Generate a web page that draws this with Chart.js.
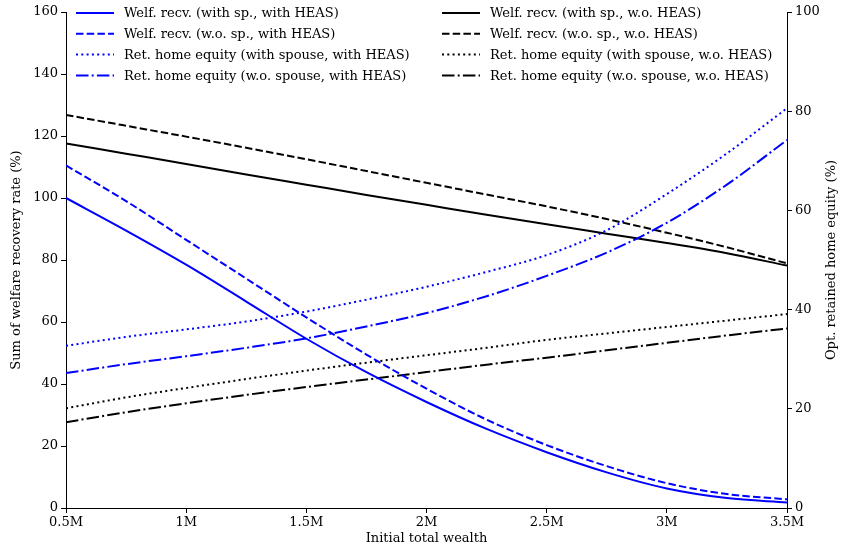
<!DOCTYPE html>
<html>
<head>
<meta charset="utf-8">
<script src="https://cdn.jsdelivr.net/npm/chart.js@4.4.1/dist/chart.umd.min.js"></script>
<style>
  html, body { margin: 0; padding: 0; background: #ffffff; }
  #wrap { width: 841px; height: 546px; position: relative; }
</style>
</head>
<body>
<div id="wrap"><canvas id="c" width="841" height="546"></canvas></div>
<script>
// ---- data ----
const wealth = [0.5, 0.75, 1.0, 1.25, 1.5, 1.75, 2.0, 2.25, 2.5, 2.75, 3.0, 3.25, 3.5]; // millions

// left axis: sum of welfare recovery rate (%)
const welfWithSpWithHeas = [100.0, 89.5, 78.5, 66.6, 54.6, 43.8, 34.2, 25.5, 18.0, 11.5, 6.3, 3.2, 1.8];
const welfWoSpWithHeas   = [110.5, 99.0, 86.5, 74.0, 61.5, 49.5, 38.5, 28.5, 20.3, 13.5, 8.0, 4.5, 2.8];
const welfWithSpWoHeas   = [117.6, 114.3, 111.0, 107.6, 104.3, 101.0, 97.8, 94.6, 91.5, 88.5, 85.5, 82.2, 78.2];
const welfWoSpWoHeas     = [126.8, 123.3, 119.8, 116.2, 112.5, 108.7, 104.9, 101.1, 97.3, 93.2, 88.8, 84.1, 78.9];

// right axis: optimal retained home equity (%)
const homeWithSpWithHeas = [32.7, 34.5, 36.0, 37.6, 39.6, 42.0, 44.6, 47.6, 51.0, 56.0, 63.3, 71.5, 80.6];
const homeWoSpWithHeas   = [27.2, 29.0, 30.6, 32.3, 34.2, 36.6, 39.3, 42.7, 46.8, 51.5, 57.5, 65.2, 74.2];
const homeWithSpWoHeas   = [20.1, 22.3, 24.2, 26.0, 27.7, 29.3, 30.8, 32.3, 33.9, 35.2, 36.5, 37.8, 39.1];
const homeWoSpWoHeas     = [17.3, 19.3, 21.1, 22.8, 24.4, 25.9, 27.4, 28.9, 30.3, 31.8, 33.3, 34.8, 36.2];

const seriesLabels = [
  'Welf. recv. (with sp., with HEAS)',
  'Welf. recv. (w.o. sp., with HEAS)',
  'Ret. home equity (with spouse, with HEAS)',
  'Ret. home equity (w.o. spouse, with HEAS)',
  'Welf. recv. (with sp., w.o. HEAS)',
  'Welf. recv. (w.o. sp., w.o. HEAS)',
  'Ret. home equity (with spouse, w.o. HEAS)',
  'Ret. home equity (w.o. spouse, w.o. HEAS)'
];

const xTicks = [0.5, 1.0, 1.5, 2.0, 2.5, 3.0, 3.5];
const xTickLabels = ['0.5M', '1M', '1.5M', '2M', '2.5M', '3M', '3.5M'];
const xAxisTitle = 'Initial total wealth';
const leftAxisTitle = 'Sum of welfare recovery rate (%)';
const rightAxisTitle = 'Opt. retained home equity (%)';

// ---- styles ----
const FONT = "'DejaVu Serif', serif";
const BLUE = '#0000ff';
const BLACK = '#000000';
const LW = 2;
const DASH = [7.5, 3.2];
const DOT = [2, 3.3];
const DASHDOT = [12.5, 3.2, 2, 3.2];

function pts(ys) { return wealth.map((x, i) => ({ x: x, y: ys[i] })); }

function ds(label, ys, color, dash, axis) {
  return {
    label: label,
    data: pts(ys),
    borderColor: color,
    backgroundColor: color,
    borderWidth: LW,
    borderDash: dash,
    pointRadius: 0,
    pointHoverRadius: 0,
    fill: false,
    cubicInterpolationMode: 'monotone',
    yAxisID: axis
  };
}

const datasets = [
  ds(seriesLabels[0], welfWithSpWithHeas, BLUE, [], 'yL'),
  ds(seriesLabels[1], welfWoSpWithHeas, BLUE, DASH, 'yL'),
  ds(seriesLabels[2], homeWithSpWithHeas, BLUE, DOT, 'yR'),
  ds(seriesLabels[3], homeWoSpWithHeas, BLUE, DASHDOT, 'yR'),
  ds(seriesLabels[4], welfWithSpWoHeas, BLACK, [], 'yL'),
  ds(seriesLabels[5], welfWoSpWoHeas, BLACK, DASH, 'yL'),
  ds(seriesLabels[6], homeWithSpWoHeas, BLACK, DOT, 'yR'),
  ds(seriesLabels[7], homeWoSpWoHeas, BLACK, DASHDOT, 'yR')
];

// two-column legend inside plot + right axis title reading bottom-to-top
const extrasPlugin = {
  id: 'extras',
  afterDatasetsDraw(chart) {
    const ctx = chart.ctx;
    const a = chart.chartArea;
    const colOffsets = [10, 376];
    const lineLen = 38;
    const textGap = 10;
    const rowH = 20.8;
    ctx.save();
    chart.data.datasets.forEach((d, i) => {
      const col = Math.floor(i / 4);
      const x0 = a.left + colOffsets[col];
      const y = a.top + 1 + (i % 4) * rowH;
      ctx.strokeStyle = d.borderColor;
      ctx.lineWidth = d.borderWidth;
      ctx.setLineDash(d.borderDash || []);
      ctx.beginPath();
      ctx.moveTo(x0, y);
      ctx.lineTo(x0 + lineLen, y);
      ctx.stroke();
      ctx.setLineDash([]);
      ctx.fillStyle = '#000';
      ctx.font = '13px ' + FONT;
      ctx.textBaseline = 'middle';
      ctx.textAlign = 'left';
      ctx.fillText(d.label, x0 + lineLen + textGap, y + 1);
    });
    // right axis title
    ctx.translate(chart.width - 9, (a.top + a.bottom) / 2);
    ctx.rotate(-Math.PI / 2);
    ctx.textAlign = 'center';
    ctx.textBaseline = 'middle';
    ctx.font = '13px ' + FONT;
    ctx.fillStyle = '#000';
    ctx.fillText(rightAxisTitle, 0, 0);
    ctx.restore();
  }
};

Chart.defaults.font.family = FONT;
Chart.defaults.font.size = 13;
Chart.defaults.color = '#000';

new Chart(document.getElementById('c'), {
  type: 'line',
  data: { datasets: datasets },
  plugins: [extrasPlugin],
  options: {
    responsive: false,
    animation: false,
    events: [],
    layout: { padding: { top: 12, left: 0, right: 0, bottom: 0 } },
    plugins: { legend: { display: false }, tooltip: { enabled: false } },
    scales: {
      x: {
        type: 'linear',
        min: 0.5, max: 3.5,
        afterBuildTicks(s) { s.ticks = xTicks.map(v => ({ value: v })); },
        afterFit(s) { s.height = 38; },
        ticks: {
          padding: 2,
          maxRotation: 0,
          autoSkip: false,
          callback(v) { const k = xTicks.indexOf(v); return k >= 0 ? xTickLabels[k] : ''; }
        },
        grid: { display: true, drawOnChartArea: false, drawTicks: true, tickLength: 5, color: '#000', lineWidth: 1 },
        border: { display: true, color: '#000', width: 1 },
        title: { display: true, text: xAxisTitle, font: { size: 13 }, padding: { top: 0, bottom: 0 } }
      },
      yL: {
        type: 'linear',
        position: 'left',
        min: 0, max: 160,
        ticks: { stepSize: 20, padding: 3 },
        afterFit(s) { s.width = 66; },
        grid: { display: true, drawOnChartArea: false, drawTicks: true, tickLength: 5, color: '#000', lineWidth: 1 },
        border: { display: true, color: '#000', width: 1 },
        title: { display: true, text: leftAxisTitle, font: { size: 13 }, padding: { top: 9, bottom: 0 } }
      },
      yR: {
        type: 'linear',
        position: 'right',
        min: 0, max: 100,
        ticks: { stepSize: 20, padding: 3 },
        afterFit(s) { s.width = 54; },
        grid: { display: true, drawOnChartArea: false, drawTicks: true, tickLength: 5, color: '#000', lineWidth: 1 },
        border: { display: true, color: '#000', width: 1 },
        title: { display: false }
      }
    }
  }
});
</script>
</body>
</html>
